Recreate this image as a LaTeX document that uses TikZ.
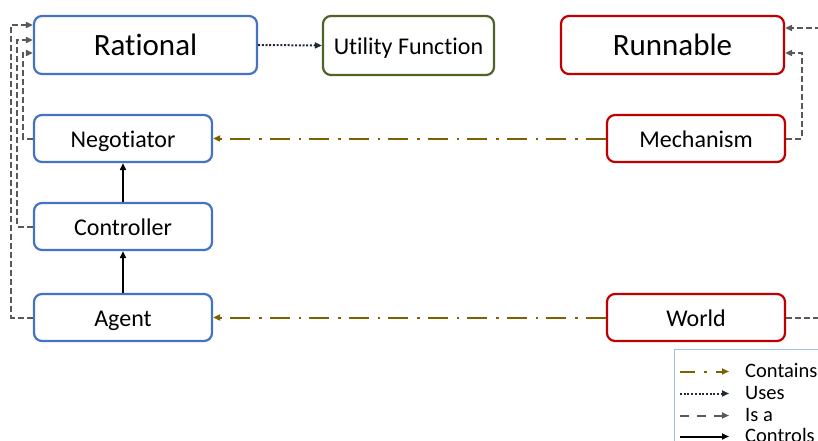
\documentclass[tikz,border=0pt]{standalone}
\usepackage{fontspec}
\setmainfont{Carlito}[Ligatures=NoCommon]
\usetikzlibrary{arrows.meta}
\definecolor{cblue}{HTML}{4472C4}
\definecolor{cred}{HTML}{C00000}
\definecolor{cgreen}{HTML}{4F6228}
\definecolor{colive}{HTML}{7F6000}
\definecolor{cgray}{HTML}{595959}
\definecolor{cdot}{HTML}{222A35}
\definecolor{clegend}{HTML}{9DC3E6}
\tikzset{
  box/.style={draw, line width=2.2pt, rounded corners=8pt, align=center, inner sep=0pt, text=black, text depth=0pt},
  bigbox/.style={box, minimum width=223pt, minimum height=58pt, text height=22pt, font=\fontsize{31}{33}\selectfont},
  smallbox/.style={box, minimum width=178pt, minimum height=47pt, text height=17.5pt, font=\fontsize{24}{26}\selectfont},
  tiparrow/.style={-{Triangle[length=7pt,width=6pt]}},
  isaline/.style={tiparrow, cgray, line width=2pt, dash pattern=on 6pt off 3pt},
  containsline/.style={tiparrow, colive, line width=2pt, dash pattern=on 20pt off 8pt on 2.5pt off 9pt},
  usesline/.style={tiparrow, cdot, line width=2pt, dash pattern=on 2pt off 1.7pt},
  controlsline/.style={tiparrow, black, line width=2pt},
  legtext/.style={anchor=base west, inner sep=0pt, font=\fontsize{20.5}{22}\selectfont},
}
\begin{document}
\begin{tikzpicture}[x=1pt,y=-1pt]
\useasboundingbox (0,0) rectangle (818,441);
\clip (0,0) rectangle (818,441);
% nodes
\node[bigbox, draw=cblue] (rational) at (145.5,45) {Rational};
\node[smallbox, draw=cgreen, minimum width=171pt, minimum height=59pt] (utility) at (408.5,45.5) {Utility Function};
\node[bigbox, draw=cred] (runnable) at (672.5,45) {Runnable};
\node[smallbox, draw=cblue] (negotiator) at (123,138.5) {Negotiator};
\node[smallbox, draw=cred] (mechanism) at (696,138.5) {Mechanism};
\node[smallbox, draw=cblue] (controller) at (123,226.5) {Controller};
\node[smallbox, draw=cblue] (agent) at (123,317.5) {Agent};
\node[smallbox, draw=cred] (world) at (696,317.5) {World};
% is-a (left)
\draw[isaline] (agent.west) -| (11,25) -- (rational.west |- 0,25);
\draw[isaline] (controller.west) -| (17,40) -- (rational.west |- 0,40);
\draw[isaline] (negotiator.west) -| (23,53) -- (rational.west |- 0,53);
% is-a (right)
\coordinate (offr) at (830,28);
\draw[isaline] (world.east) -| (offr) -- (runnable.east |- 0,28);
\draw[isaline] (mechanism.east) -| (802,53) -- (runnable.east |- 0,53);
% contains
\draw[containsline] (mechanism.west) -- (negotiator.east);
\draw[containsline] (world.west) -- (agent.east);
% uses
\draw[usesline] (rational.east) -- (utility.west);
% controls
\draw[controlsline] (agent.north) -- (controller.south);
\draw[controlsline] (controller.north) -- (negotiator.south);
% legend
\node[draw=clegend, line width=0.8pt, minimum width=160pt, minimum height=110pt, anchor=north west, inner sep=0pt] (legend) at (674,349) {};
\coordinate (l1a) at (680,371.5); \coordinate (l1b) at (729,371.5);
\coordinate (l2a) at (680,393.5); \coordinate (l2b) at (729,393.5);
\coordinate (l3a) at (680,415.5); \coordinate (l3b) at (729,415.5);
\coordinate (l4a) at (680,436.5); \coordinate (l4b) at (729,436.5);
\draw[containsline, dash pattern=on 15pt off 9pt on 2.5pt off 9pt] (l1a) -- (l1b);
\draw[usesline] (l2a) -- (l2b);
\draw[isaline, dash pattern=on 9pt off 8pt] (l3a) -- (l3b);
\draw[controlsline] (l4a) -- (l4b);
\node[legtext] (t1) at (745,377.7) {Contains};
\node[legtext] (t2) at (745,399.3) {Uses};
\node[legtext] (t3) at (745,421) {Is a};
\node[legtext] (t4) at (745,442.7) {Controls};
\end{tikzpicture}
\end{document}
